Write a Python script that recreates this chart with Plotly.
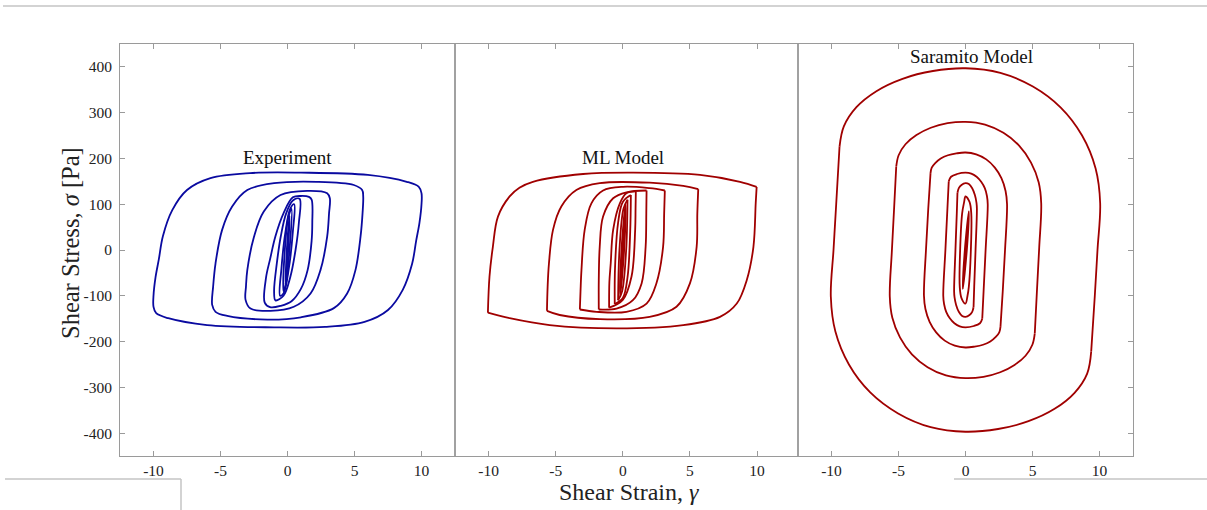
import plotly.graph_objects as go

# ---------------- data ----------------
strain_ticks = [-10, -5, 0, 5, 10]
strain_tick_text = ["-10", "-5", "0", "5", "10"]
stress_ticks = [-400, -300, -200, -100, 0, 100, 200, 300, 400]
stress_tick_text = ["-400", "-300", "-200", "-100", "0", "100", "200", "300", "400"]

panel_titles = ["Experiment", "ML Model", "Saramito Model"]

# Experiment loops (strain, stress)
exp1_x = [10.0, 10.0, 9.85, 9.6, 9.3, 8.6, 7.5, 5.75, 2.8, -1.0, -6.0, -8.9, -9.8, -10.0, -10.0, -9.85, -9.6, -9.3, -8.6, -7.5, -5.75, -2.8, 1.0, 6.0, 8.9, 9.8, 10.0]
exp1_y = [124, 100, 60, 20, -30, -87, -131, -157, -168, -169, -164, -149, -138, -124, -100, -60, -20, 30, 87, 131, 157, 168, 169, 164, 149, 138, 124]
exp2_x = [5.65, 5.6, 5.45, 5.07, 4.45, 3.46, 1.0, -1.5, -4.5, -5.37, -5.62, -5.55, -5.37, -4.88, -4.13, -3.0, -1.0, 2.2, 4.95, 5.57, 5.65]
exp2_y = [117, 80, 29, -44, -95, -127, -147, -152, -144, -135, -120, -80, -29, 44, 95, 131, 146, 149, 142, 131, 117]
exp3_x = [3.16, 3.1, 2.96, 2.46, 1.72, 0.47, -1.27, -2.76, -3.13, -3.1, -3.0, -2.5, -1.77, -0.52, 1.47, 2.96, 3.16]
exp3_y = [113, 80, 29, -44, -95, -124, -133, -128, -109, -80, -44, 29, 84, 120, 129, 124, 113]
exp4_x = [1.8, 1.85, 1.8, 1.5, 1.0, 0.3, -0.5, -1.3, -1.7, -1.6, -1.3, -0.9, -0.3, 0.4, 1.0, 1.6, 1.8]
exp4_y = [110, 60, 20, -44, -85, -112, -122, -125, -115, -60, -20, 30, 80, 115, 118, 116, 110]
exp5_x = [0.9, 0.85, 0.6, 0.2, -0.3, -0.9, -1.0, -0.8, -0.5, -0.1, 0.4, 0.9]
exp5_y = [112, 60, 0, -60, -100, -110, -90, -30, 30, 80, 108, 112]
exp6_x = [0.5, 0.4, 0.1, -0.3, -0.55, -0.45, -0.15, 0.2, 0.5]
exp6_y = [100, 40, -40, -95, -100, -40, 40, 90, 100]
exp7_x = [0.3, 0.15, -0.1, -0.3, -0.2, 0.05, 0.3]
exp7_y = [90, 0, -70, -90, 0, 70, 90]
exp8_x = [0.15, 0.05, -0.15, -0.05, 0.15]
exp8_y = [75, 0, -75, 0, 75]

# ML model loops
ml1_x = [9.97, 9.9, 9.73, 9.23, 8.49, 7.24, 4.5, -0.47, -5.45, -8.43, -10.05, -9.93, -9.68, -9.3, -8.43, -7.7, -6.7, -2.96, 0.77, 5.75, 8.73, 9.97]
ml1_y = [138, 102, 7, -66, -117, -146, -164, -171, -164, -149, -137, -58, 7, 73, 117, 136, 149, 166, 169, 164, 149, 138]
ml2_x = [5.62, 5.55, 5.5, 5.0, 4.0, 2.0, -1.72, -4.7, -5.65, -5.6, -5.5, -5.2, -4.58, -3.46, -1.72, 2.0, 4.5, 5.62]
ml2_y = [133, 80, 7, -73, -124, -146, -151, -142, -133, -80, -29, 44, 95, 131, 146, 147, 140, 133]
ml3_x = [3.13, 3.08, 3.0, 2.5, 1.77, 0.27, -1.96, -3.2, -3.15, -3.08, -2.84, -2.34, -1.47, 0.02, 2.0, 3.13]
ml3_y = [130, 80, 7, -73, -117, -135, -135, -130, -90, -44, 44, 102, 130, 138, 135, 130]
ml4_x = [1.77, 1.75, 1.7, 1.4, 0.77, -0.47, -1.79, -1.79, -1.72, -1.47, -0.72, 0.27, 1.77]
ml4_y = [130, 80, 7, -73, -109, -128, -130, -66, 7, 73, 113, 126, 130]
ml5_x = [0.97, 0.95, 0.92, 0.65, 0.0, -1.02, -1.0, -0.9, -0.72, -0.22, 0.27, 0.97]
ml5_y = [128, 90, 44, -58, -109, -126, -70, -29, 44, 102, 124, 128]
ml6_x = [0.6, 0.55, 0.35, 0.0, -0.6, -0.58, -0.35, 0.0, 0.6]
ml6_y = [120, 40, -60, -105, -118, -40, 60, 105, 120]
ml7_x = [0.35, 0.25, -0.05, -0.35, -0.25, 0.05, 0.35]
ml7_y = [110, 0, -90, -110, 0, 90, 110]
ml8_x = [0.2, 0.1, -0.2, -0.1, 0.2]
ml8_y = [100, 0, -100, 0, 100]

# Saramito model loops (each starts at its lower-right kink)
sar1_x = [9.38, 9.08, 8.14, 6.65, 4.7, 2.43, 0.0, -2.6, -5.03, -7.11, -8.7, -9.71, -10.05, -9.85, -9.65,
          -9.4, -9.08, -8.14, -6.65, -4.7, -2.43, 0.0, 2.6, 5.03, 7.11, 8.7, 9.71, 10.05, 9.85, 9.65, 9.38]
sar1_y = [-222, -270, -312, -347, -374, -391, -397, -387, -357, -311, -250, -178, -102, 0, 100,
          226, 270, 312, 347, 374, 391, 397, 387, 357, 311, 250, 178, 102, 0, -100, -222]
sar2_x = [5.17, 4.99, 4.48, 3.66, 2.59, 1.34, 0.0, -1.46, -2.83, -4.0, -4.89, -5.46, -5.65, -5.5, -5.33,
          -5.17, -4.99, -4.48, -3.66, -2.59, -1.34, 0.0, 1.46, 2.83, 4.0, 4.89, 5.46, 5.65, 5.5, 5.33, 5.17]
sar2_y = [-182, -207, -231, -251, -267, -277, -280, -274, -256, -228, -191, -148, -102, -5, 90,
          182, 207, 231, 251, 267, 277, 280, 274, 256, 228, 191, 148, 102, 5, -90, -182]
sar3_x = [2.61, 2.52, 2.26, 1.85, 1.31, 0.68, 0.0, -0.8, -1.55, -2.19, -2.68, -2.99, -3.1, -2.95, -2.78,
          -2.61, -2.52, -2.26, -1.85, -1.31, -0.68, 0.0, 0.8, 1.55, 2.19, 2.68, 2.99, 3.1, 2.95, 2.78, 2.61]
sar3_y = [-168, -180, -190, -200, -207, -211, -213, -209, -198, -180, -157, -129, -100, 0, 90,
          168, 180, 190, 200, 207, 211, 213, 209, 198, 180, 157, 129, 100, 0, -90, -168]
sar4_x = [1.25, 1.08, 0.63, 0.0, -0.43, -0.83, -1.17, -1.44, -1.6, -1.66, -1.5, -1.35,
          -1.25, -1.08, -0.63, 0.0, 0.43, 0.83, 1.17, 1.44, 1.6, 1.66, 1.5, 1.35, 1.25]
sar4_y = [-150, -160, -166, -169, -167, -160, -149, -135, -118, -100, 0, 90,
          150, 160, 166, 169, 167, 160, 149, 135, 118, 100, 0, -90, -150]
sar5_x = [0.6, 0.5, 0.3, 0.0, -0.25, -0.5, -0.7, -0.82, -0.85, -0.75, -0.65,
          -0.6, -0.5, -0.3, 0.0, 0.25, 0.5, 0.7, 0.82, 0.85, 0.75, 0.65, 0.6]
sar5_y = [-125, -135, -142, -146, -144, -135, -120, -103, -90, 0, 80,
          125, 135, 142, 146, 144, 135, 120, 103, 90, 0, -80, -125]
sar6_x = [0.15, 0.0, -0.3, -0.43, -0.4, -0.25, -0.1, 0.0, 0.3, 0.43, 0.4, 0.25, 0.15]
sar6_y = [-100, -117, -105, -80, 0, 80, 105, 117, 105, 80, 0, -80, -100]
sar7_x = [0.25, 0.1, -0.2, -0.05, 0.25]
sar7_y = [85, 0, -85, 0, 85]

# ---------------- styles ----------------
BLUE = "#0A0AA0"
RED = "#A00000"
FONT = "Liberation Serif"
FRAME = "#9a9a9a"
SEP = "#6f6f6f"


def split_at(xs, ys, breaks):
    """Insert gaps at sharp corners so each smooth piece is splined separately."""
    ox, oy = [], []
    for i, (a, b) in enumerate(zip(xs, ys)):
        ox.append(a)
        oy.append(b)
        if i in breaks:
            ox += [None, a]
            oy += [None, b]
    return ox, oy


fig = go.Figure()


def add_loop(xs, ys, color, axis, breaks=(), fill=False, width=1.8):
    x, y = split_at(xs, ys, breaks)
    fig.add_trace(go.Scatter(
        x=x, y=y, mode="lines", xaxis=axis[0], yaxis=axis[1],
        line=dict(color=color, width=width, shape="spline", smoothing=1.0),
        fill="toself" if fill else None, fillcolor=color if fill else None,
        connectgaps=False, showlegend=False, hoverinfo="skip"))


A1, A2, A3 = ("x", "y"), ("x2", "y2"), ("x3", "y3")

for xs, ys in [(exp1_x, exp1_y), (exp2_x, exp2_y), (exp3_x, exp3_y), (exp4_x, exp4_y),
               (exp5_x, exp5_y), (exp6_x, exp6_y), (exp7_x, exp7_y)]:
    add_loop(xs, ys, BLUE, A1)
add_loop(exp8_x, exp8_y, BLUE, A1, fill=True)

ml_loops = [(ml1_x, ml1_y, (10,)), (ml2_x, ml2_y, (8,)), (ml3_x, ml3_y, (7,)),
            (ml4_x, ml4_y, (6,)), (ml5_x, ml5_y, (5,)), (ml6_x, ml6_y, (4,)),
            (ml7_x, ml7_y, (3,))]
for xs, ys, br in ml_loops:
    add_loop(xs, ys, RED, A2, breaks=br)
add_loop(ml8_x, ml8_y, RED, A2, fill=True)

sar_loops = [(sar1_x, sar1_y, (15,)), (sar2_x, sar2_y, (15,)), (sar3_x, sar3_y, (15,)),
             (sar4_x, sar4_y, (12,)), (sar5_x, sar5_y, (11,)), (sar6_x, sar6_y, ())]
for xs, ys, br in sar_loops:
    add_loop(xs, ys, RED, A3, breaks=br)
add_loop(sar7_x, sar7_y, RED, A3, fill=True)

# ---------------- layout ----------------
W, H = 1207, 510
L, R, T, B = 120, 74, 44, 54
pw = W - L - R
ph = H - T - B
d1 = 335 / pw
d2 = 678 / pw

tickfont = dict(family=FONT, size=15.5, color="#222222")

xcommon = dict(
    tickmode="array", tickvals=strain_ticks, ticktext=strain_tick_text,
    ticks="inside", ticklen=5, tickcolor=FRAME, tickwidth=1,
    showline=True, linecolor=FRAME, linewidth=1, mirror="ticks",
    showgrid=False, zeroline=False, tickfont=tickfont, ticklabelstandoff=0,
)
ycommon = dict(range=[-450, 450], showgrid=False, zeroline=False)

fig.update_layout(
    width=W, height=H,
    margin=dict(l=L, r=R, t=T, b=B, autoexpand=False),
    paper_bgcolor="white", plot_bgcolor="white",
    font=dict(family=FONT, color="#222222"),
    xaxis=dict(domain=[0, d1], range=[-12.5, 12.5], anchor="y", **xcommon),
    xaxis2=dict(domain=[d1, d2], range=[-12.5, 13.05], anchor="y2", **xcommon),
    xaxis3=dict(domain=[d2, 1], range=[-12.5, 12.5], anchor="y3", **xcommon),
    yaxis=dict(anchor="x", tickmode="array", tickvals=stress_ticks, ticktext=stress_tick_text,
               ticks="inside", ticklen=5, tickcolor=FRAME, showline=True, linecolor=FRAME,
               tickfont=tickfont, ticklabelstandoff=4, **ycommon),
    yaxis2=dict(anchor="x2", showticklabels=False, ticks="", showline=False, **ycommon),
    yaxis3=dict(anchor="x3", side="right", tickmode="array", tickvals=stress_ticks,
                ticks="inside", ticklen=5, tickcolor=FRAME, showticklabels=False,
                showline=True, linecolor=FRAME, **ycommon),
)

# panel separators
for xp in (d1, d2):
    fig.add_shape(type="line", xref="paper", yref="paper", x0=xp, x1=xp, y0=0, y1=1,
                  line=dict(color=SEP, width=1.3), layer="above")

# panel titles
TFONT = dict(family=FONT, size=19, color="#111111")
fig.add_annotation(x=0, y=201, xref="x", yref="y", text=panel_titles[0], showarrow=False,
                   xanchor="center", yanchor="middle", font=TFONT)
fig.add_annotation(x=0, y=201, xref="x2", yref="y2", text=panel_titles[1], showarrow=False,
                   xanchor="center", yanchor="middle", font=TFONT)
fig.add_annotation(x=0.45, y=422, xref="x3", yref="y3", text=panel_titles[2], showarrow=False,
                   xanchor="center", yanchor="middle", font=TFONT)

# axis titles
fig.add_annotation(x=(629 - L) / pw, y=(T + ph - 492) / ph, xref="paper", yref="paper",
                   text="Shear Strain, <i>γ</i>", showarrow=False,
                   xanchor="center", yanchor="middle",
                   font=dict(family=FONT, size=24, color="#222222"))
fig.add_annotation(x=(70 - L) / pw, y=(T + ph - 243) / ph, xref="paper", yref="paper",
                   text="Shear Stress, <i>σ</i> [Pa]", textangle=-90, showarrow=False,
                   xanchor="center", yanchor="middle",
                   font=dict(family=FONT, size=24.5, color="#222222"))

# faint page-edge lines seen in the picture
LINE = dict(color="#c4c4c4", width=1.5)
def px_x(p):
    return (p - L) / pw
def px_y(p):
    return (T + ph - p) / ph
fig.add_shape(type="line", xref="paper", yref="paper", x0=px_x(3), x1=px_x(1207), y0=px_y(6), y1=px_y(6), line=LINE)
fig.add_shape(type="line", xref="paper", yref="paper", x0=px_x(5), x1=px_x(181), y0=px_y(479), y1=px_y(479), line=LINE)
fig.add_shape(type="line", xref="paper", yref="paper", x0=px_x(181), x1=px_x(181), y0=px_y(479), y1=px_y(510), line=LINE)
fig.add_shape(type="line", xref="paper", yref="paper", x0=px_x(954), x1=px_x(1207), y0=px_y(479), y1=px_y(479), line=LINE)

fig.write_html("out.html", config={"displayModeBar": False},
               post_script="document.body.style.margin='0';")
